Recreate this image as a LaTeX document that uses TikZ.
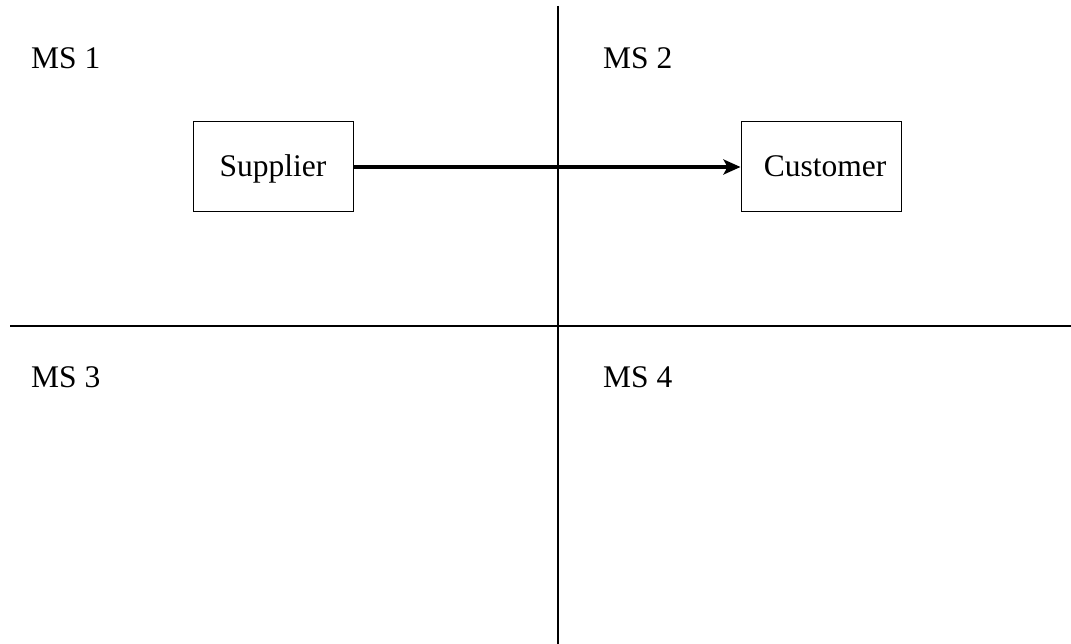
\documentclass[tikz,border=0pt]{standalone}
\usepackage{fontspec}
\setmainfont{Liberation Serif}
\usetikzlibrary{arrows.meta}
\begin{document}
\begin{tikzpicture}[x=1pt,y=-1pt,
  every node/.style={font=\fontsize{31.5}{38}\selectfont},
  divider/.style={draw=black,line width=1.3pt},
  box/.style={draw=black,line width=1pt,rectangle,minimum width=160pt,minimum height=90pt,inner sep=0pt,text height=20pt,text depth=0pt},
  mslabel/.style={anchor=base west,inner sep=0pt},
  flow/.style={draw=black,line width=3.2pt,-{Stealth[length=17pt,width=15pt,inset=4pt]}}]
\useasboundingbox (0,0) rectangle (1071,644);
\coordinate (vtop) at (558,6);
\coordinate (vbot) at (558,644);
\coordinate (hleft) at (10,326);
\coordinate (hright) at (1071,326);
\draw[divider] (vtop) -- (vbot);
\draw[divider] (hleft) -- (hright);
\node[mslabel] (ms1) at (31,69) {MS 1};
\node[mslabel] (ms2) at (603,69) {MS 2};
\node[mslabel] (ms3) at (31,387) {MS 3};
\node[mslabel] (ms4) at (603,387) {MS 4};
\node[box] (sup) at (273,167) {Supplier};
\node[box] (cus) at (821,167) {\hspace{8pt}Customer};
\path[flow] (sup.east) -- (cus.west);
\end{tikzpicture}
\end{document}
